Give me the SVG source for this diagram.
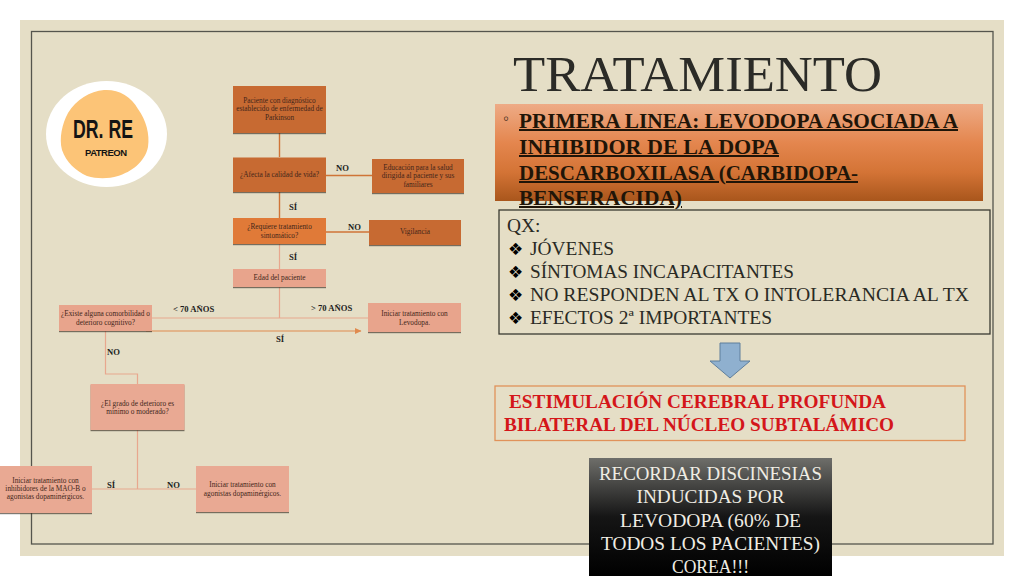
<svg xmlns="http://www.w3.org/2000/svg" width="1024" height="576" viewBox="0 0 1024 576">
<style>
text{font-family:"Liberation Serif","Times New Roman",serif}
.nt{font-size:7.3px;fill:#43261a;text-anchor:middle}
.lb{font-size:8.6px;font-weight:bold;fill:#1c1c1c}
.c1{fill:#c76b30;filter:url(#sh)}
.c2{fill:#e07a38;filter:url(#sh)}
.c3{fill:#e8a48c;filter:url(#sh)}
.c4{fill:#e9a993;filter:url(#sh)}
.l1{stroke:#cf7437;stroke-width:1.4;fill:none}
.l2{stroke:#e8a78e;stroke-width:1.2;fill:none}
.l3{stroke:#e08a4e;stroke-width:1.2;fill:none}
.h{font-size:20px;font-weight:bold;fill:#1f1508;text-decoration:underline}
.q{font-size:19.4px;fill:#2a2a24}
.d{font-size:17px;fill:#000;font-family:"DejaVu Sans",sans-serif}
.r{font-size:19.4px;font-weight:bold;fill:#d4161a}
.w{font-size:19.4px;fill:#f0ede4;text-anchor:middle}
</style>
<defs>
<filter id="sh" x="-10%" y="-10%" width="120%" height="125%"><feDropShadow dx="0" dy="1.2" stdDeviation="0.7" flood-color="#3a3020" flood-opacity="0.65"/></filter>
<linearGradient id="gO" x1="0" y1="0" x2="0" y2="1"><stop offset="0" stop-color="#eeab86"/><stop offset="0.4" stop-color="#e4864e"/><stop offset="0.7" stop-color="#d47436"/><stop offset="1" stop-color="#a9561c"/></linearGradient>
<linearGradient id="gK" x1="0" y1="0" x2="0" y2="1"><stop offset="0" stop-color="#6e6e6a"/><stop offset="0.5" stop-color="#151515"/><stop offset="1" stop-color="#000"/></linearGradient>
<marker id="ah" markerUnits="userSpaceOnUse" markerWidth="7" markerHeight="7" refX="6" refY="3" orient="auto"><path d="M0 0L6.500 3L0 6z" fill="#e08a4e"/></marker>
</defs>
<rect width="1024" height="576" fill="#fff"/>
<rect x="20" y="20" width="984" height="536" fill="#e5dec6"/>
<rect x="31.500" y="31.500" width="961.500" height="512.500" fill="none" stroke="#55554d" stroke-width="1.300"/>

<g id="logo">
<ellipse cx="106.500" cy="134" rx="60.500" ry="53" fill="#fff"/>
<path d="M104 90C118 89 131 96 138 109C146 120 150 134 148 147C145 162 131 172 118 176C108 179 97 179 87 176C76 171 66 162 62 150C59 138 62 124 68 113C76 100 90 91 104 90Z" fill="#fcc477"/>
<text x="73" y="138" font-size="25" font-weight="bold" fill="#141414" textLength="60" lengthAdjust="spacingAndGlyphs" style="font-family:'Liberation Sans',sans-serif">DR. RE</text>
<text x="85" y="156" font-size="9.500" font-weight="bold" fill="#141414" textLength="42" style="font-family:'Liberation Sans',sans-serif">PATREON</text>
</g>

<g id="connectors">
<path class="l1" d="M279.500 133V157M279.500 192V218"/>
<path class="l1" d="M326 175.500H372M326 232H369"/>
<path class="l2" d="M279.500 244V269M279.500 287V318M152 318H368"/>
<path class="l2" d="M105.500 331V374H137.500V384M137.500 430V489M92 489H196"/>
<path class="l3" d="M146 331H361" marker-end="url(#ah)"/>
</g>

<g id="n1"><rect class="c1" x="233" y="86" width="93" height="47"/><text class="nt" x="279.500" y="103">Paciente con diagnóstico</text><text class="nt" x="279.500" y="111">establecido de enfermedad de</text><text class="nt" x="279.500" y="120">Parkinson</text></g>
<g id="n2"><rect class="c1" x="233" y="157.500" width="93" height="34.500"/><text class="nt" x="279.500" y="177">¿Afecta la calidad de vida?</text></g>
<g id="n3"><rect class="c1" x="372" y="159" width="92" height="34"/><text class="nt" x="418" y="170">Educación  para la salud</text><text class="nt" x="418" y="178">dirigida al paciente y sus</text><text class="nt" x="418" y="187">familiares</text></g>
<g id="n4"><rect class="c2" x="233" y="218" width="93" height="26"/><text class="nt" x="279.500" y="229">¿Requiere tratamiento</text><text class="nt" x="279.500" y="238">sintomático?</text></g>
<g id="n5"><rect class="c1" x="369" y="220" width="92" height="25"/><text class="nt" x="415" y="234">Vigilancia</text></g>
<g id="n6"><rect class="c3" x="233" y="269" width="93" height="18"/><text class="nt" x="279.500" y="280">Edad del paciente</text></g>
<g id="n7"><rect class="c3" x="59" y="305" width="93" height="26"/><text class="nt" x="105.500" y="316">¿Existe alguna comorbilidad o</text><text class="nt" x="105.500" y="325">deterioro cognitivo?</text></g>
<g id="n8"><rect class="c3" x="368" y="303" width="93" height="29"/><text class="nt" x="414.500" y="316">Iniciar tratamiento con</text><text class="nt" x="414.500" y="325">Levodopa.</text></g>
<g id="n9"><rect class="c4" x="90.500" y="384" width="94" height="46"/><text class="nt" x="137.500" y="406">¿El grado de deterioro es</text><text class="nt" x="137.500" y="414">mínimo o moderado?</text></g>
<g id="n10"><rect class="c4" x="-2" y="466" width="94" height="47"/><text class="nt" x="45.500" y="483">Iniciar tratamiento con</text><text class="nt" x="45.500" y="491">inhibidores de la MAO-B o</text><text class="nt" x="45.500" y="499">agonistas dopaminérgicos.</text></g>
<g id="n11"><rect class="c4" x="196" y="466" width="93" height="46"/><text class="nt" x="242.500" y="487">Iniciar tratamiento con</text><text class="nt" x="242.500" y="496">agonistas dopaminérgicos.</text></g>

<g id="labels">
<text class="lb" x="336" y="171">NO</text>
<text class="lb" x="289" y="210">SÍ</text>
<text class="lb" x="348" y="230">NO</text>
<text class="lb" x="289" y="260">SÍ</text>
<text class="lb" x="173" y="312">&lt; 70 AÑOS</text>
<text class="lb" x="311" y="311">&gt; 70 AÑOS</text>
<text class="lb" x="276" y="342">SÍ</text>
<text class="lb" x="107" y="355">NO</text>
<text class="lb" x="107" y="488">SÍ</text>
<text class="lb" x="167" y="488">NO</text>
</g>

<g id="title"><text x="513" y="91" font-size="50" fill="#2b2b27" textLength="369" lengthAdjust="spacingAndGlyphs">TRATAMIENTO</text></g>

<g id="primera">
<rect x="495" y="104" width="488" height="97" fill="url(#gO)"/>
<text x="503" y="124" font-size="17" fill="#3a2a1c">◦</text>
<text class="h" x="519" y="128" textLength="439" lengthAdjust="spacingAndGlyphs">PRIMERA LINEA: LEVODOPA ASOCIADA A</text>
<text class="h" x="519" y="154" textLength="260" lengthAdjust="spacingAndGlyphs">INHIBIDOR DE LA DOPA</text>
<text class="h" x="519" y="180" textLength="339" lengthAdjust="spacingAndGlyphs">DESCARBOXILASA (CARBIDOPA-</text>
<text class="h" x="519" y="205" textLength="163" lengthAdjust="spacingAndGlyphs">BENSERACIDA)</text>
</g>

<g id="qx">
<rect x="499" y="210" width="491" height="124" fill="#e5dec6" stroke="#3a3a32" stroke-width="1.300"/>
<text class="q" x="507" y="232">QX:</text>
<text class="d" x="508" y="255">❖</text><text class="q" x="530" y="255" textLength="84" lengthAdjust="spacingAndGlyphs">JÓVENES</text>
<text class="d" x="508" y="278">❖</text><text class="q" x="530" y="278" textLength="264" lengthAdjust="spacingAndGlyphs">SÍNTOMAS INCAPACITANTES</text>
<text class="d" x="508" y="301">❖</text><text class="q" x="530" y="301" textLength="439" lengthAdjust="spacingAndGlyphs">NO RESPONDEN AL TX O INTOLERANCIA AL TX</text>
<text class="d" x="508" y="324">❖</text><text class="q" x="530" y="324" textLength="242" lengthAdjust="spacingAndGlyphs">EFECTOS 2ª IMPORTANTES</text>
</g>

<g id="arrow"><path d="M720 343H740V361H750L730 378L710 361H720Z" fill="#8fb0cf" stroke="#5f7f9c" stroke-width="1"/></g>

<g id="dbs">
<rect x="495" y="386" width="470" height="54.500" fill="none" stroke="#e0925a" stroke-width="1.300"/>
<text class="r" x="509" y="408" textLength="377" lengthAdjust="spacingAndGlyphs">ESTIMULACIÓN CEREBRAL PROFUNDA</text>
<text class="r" x="504" y="431" textLength="390" lengthAdjust="spacingAndGlyphs">BILATERAL DEL NÚCLEO SUBTALÁMICO</text>
</g>

<g id="recordar">
<rect x="589" y="458" width="243" height="118" fill="url(#gK)"/>
<text class="w" x="710.500" y="480" textLength="223" lengthAdjust="spacingAndGlyphs">RECORDAR DISCINESIAS</text>
<text class="w" x="710.500" y="503" textLength="148" lengthAdjust="spacingAndGlyphs">INDUCIDAS POR</text>
<text class="w" x="710.500" y="527" textLength="181" lengthAdjust="spacingAndGlyphs">LEVODOPA (60% DE</text>
<text class="w" x="710.500" y="550" textLength="219" lengthAdjust="spacingAndGlyphs">TODOS LOS PACIENTES)</text>
<text class="w" x="710.500" y="573" textLength="77" lengthAdjust="spacingAndGlyphs">COREA!!!</text>
</g>
</svg>
